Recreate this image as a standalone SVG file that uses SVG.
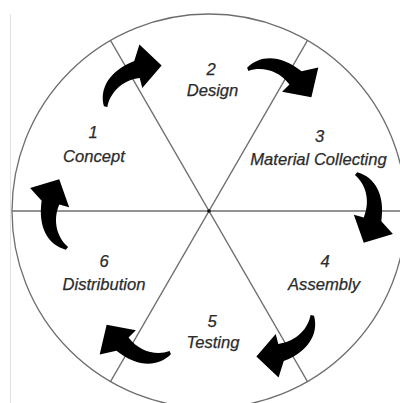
<svg xmlns="http://www.w3.org/2000/svg" width="400" height="403" viewBox="0 0 400 403">
<style>
.ln{fill:none;stroke:#6e6e6e;stroke-width:1.3}
.t{font-family:"Liberation Sans",Arial,sans-serif;font-style:italic;font-size:16.6px;fill:#2b2b2b;stroke:#2b2b2b;stroke-width:0.25;text-anchor:middle}
.arrow{fill:#000}
</style>
<defs>
<path id="arr" transform="translate(-4,-158) scale(1.1) translate(4,158)" d="M -35.5,-144.5 C -31,-161 -15,-170 9,-166.5 L 20.5,-177 L 28.5,-150.5 L 3,-141.5 L 5.5,-150.5 C -10,-157 -25,-152 -33,-142.5 Z"/>
</defs>
<rect width="400" height="403" fill="#fff"/>
<line x1="10.5" y1="14" x2="10.5" y2="403" stroke="#e2e2e2" stroke-width="1"/>
<g id="connectors">
<circle class="ln" cx="209" cy="211" r="197"/>
<line class="ln" x1="12" y1="211" x2="406" y2="211"/>
<line class="ln" x1="110.5" y1="40.4" x2="307.5" y2="381.6"/>
<line class="ln" x1="307.5" y1="40.4" x2="110.5" y2="381.6"/>
<circle cx="209" cy="211" r="1.8" fill="#111"/>
<g transform="translate(209,211)">
<use href="#arr" class="arrow" transform="rotate(-30)"/>
<use href="#arr" class="arrow" transform="rotate(30)"/>
<use href="#arr" class="arrow" transform="rotate(90) translate(0,-5)"/>
<use href="#arr" class="arrow" transform="rotate(150)"/>
<use href="#arr" class="arrow" transform="rotate(210)"/>
<use href="#arr" class="arrow" transform="rotate(270)"/>
</g>
</g>
<g id="node1"><text class="t" x="93" y="138">1</text><text class="t" x="94" y="161.5">Concept</text></g>
<g id="node2"><text class="t" x="211" y="75">2</text><text class="t" x="212.5" y="96">Design</text></g>
<g id="node3"><text class="t" x="319.5" y="142">3</text><text class="t" x="318.5" y="164.5">Material Collecting</text></g>
<g id="node4"><text class="t" x="325" y="267">4</text><text class="t" x="324" y="290">Assembly</text></g>
<g id="node5"><text class="t" x="212" y="327">5</text><text class="t" x="213" y="348">Testing</text></g>
<g id="node6"><text class="t" x="104" y="267">6</text><text class="t" x="104" y="290">Distribution</text></g>
</svg>
